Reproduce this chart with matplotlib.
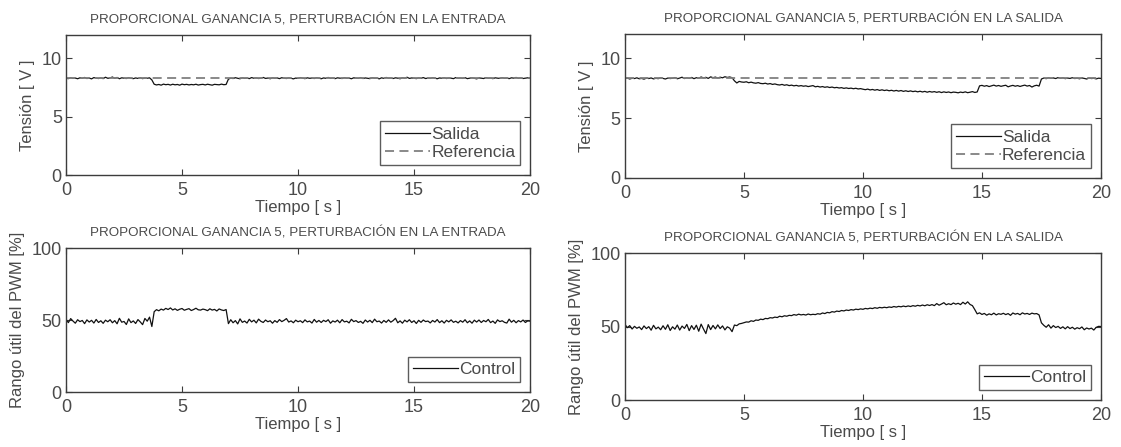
import numpy as np
import matplotlib
matplotlib.use("Agg")
import matplotlib.pyplot as plt

# Sampling instants (0.1 s step, 0 to 20 s)
t = np.linspace(0.0, 20.0, 201)

# Output voltage [V], disturbance at the input
salida_entrada = [
    8.30, 8.26, 8.34, 8.28, 8.31, 8.25, 8.33, 8.29, 8.36, 8.27,
    8.31, 8.24, 8.35, 8.30, 8.27, 8.33, 8.26, 8.38, 8.29, 8.32,
    8.40, 8.28, 8.36, 8.25, 8.33, 8.30, 8.27, 8.35, 8.29, 8.26,
    8.32, 8.28, 8.34, 8.26, 8.31, 8.29, 8.33, 8.15, 7.78, 7.72,
    7.76, 7.70, 7.79, 7.74, 7.77, 7.71, 7.78, 7.73, 7.76, 7.70,
    7.79, 7.74, 7.77, 7.72, 7.76, 7.73, 7.78, 7.71, 7.75, 7.77,
    7.72, 7.78, 7.74, 7.70, 7.77, 7.75, 7.73, 7.79, 7.74, 7.76,
    8.22, 8.30, 8.27, 8.34, 8.29, 8.25, 8.33, 8.28, 8.31, 8.26,
    8.35, 8.29, 8.32, 8.27, 8.30, 8.36, 8.28, 8.31, 8.25, 8.33,
    8.29, 8.32, 8.26, 8.34, 8.30, 8.27, 8.33, 8.29, 8.24, 8.31,
    8.28, 8.35, 8.30, 8.26, 8.33, 8.29, 8.31, 8.27, 8.34, 8.30,
    8.25, 8.32, 8.29, 8.36, 8.28, 8.31, 8.26, 8.33, 8.30, 8.27,
    8.34, 8.29, 8.31, 8.25, 8.33, 8.30, 8.28, 8.35, 8.27, 8.32,
    8.29, 8.26, 8.34, 8.30, 8.31, 8.24, 8.33, 8.28, 8.36, 8.29,
    8.31, 8.27, 8.33, 8.30, 8.25, 8.34, 8.29, 8.38, 8.28, 8.32,
    8.30, 8.26, 8.33, 8.29, 8.35, 8.27, 8.31, 8.28, 8.34, 8.30,
    8.25, 8.32, 8.29, 8.33, 8.27, 8.31, 8.30, 8.26, 8.35, 8.29,
    8.31, 8.28, 8.34, 8.26, 8.30, 8.33, 8.29, 8.24, 8.32, 8.30,
    8.27, 8.35, 8.29, 8.31, 8.26, 8.33, 8.30, 8.28, 8.34, 8.29,
    8.31, 8.26, 8.33, 8.30, 8.36, 8.28, 8.32, 8.27, 8.30, 8.33,
    8.29,
]

# Output voltage [V], disturbance at the output
salida_salida = [
    8.28, 8.33, 8.25, 8.31, 8.29, 8.35, 8.27, 8.30, 8.24, 8.32,
    8.29, 8.34, 8.26, 8.31, 8.28, 8.36, 8.30, 8.25, 8.33, 8.29,
    8.31, 8.37, 8.27, 8.33, 8.40, 8.29, 8.35, 8.30, 8.38, 8.28,
    8.36, 8.31, 8.42, 8.34, 8.39, 8.30, 8.43, 8.36, 8.41, 8.33,
    8.40, 8.35, 8.44, 8.38, 8.42, 8.36, 8.10, 7.92, 8.05, 8.00,
    7.98, 8.02, 7.94, 7.99, 7.93, 7.90, 7.95, 7.88, 7.86, 7.90,
    7.83, 7.87, 7.80, 7.84, 7.78, 7.75, 7.80, 7.73, 7.77, 7.70,
    7.74, 7.68, 7.72, 7.66, 7.70, 7.65, 7.68, 7.62, 7.66, 7.70,
    7.60, 7.64, 7.58, 7.62, 7.56, 7.60, 7.54, 7.58, 7.52, 7.55,
    7.50, 7.53, 7.47, 7.51, 7.46, 7.49, 7.44, 7.48, 7.42, 7.45,
    7.40, 7.36, 7.41, 7.34, 7.38, 7.32, 7.37, 7.30, 7.35, 7.29,
    7.33, 7.27, 7.31, 7.25, 7.30, 7.24, 7.29, 7.22, 7.27, 7.21,
    7.26, 7.20, 7.24, 7.18, 7.23, 7.17, 7.22, 7.15, 7.21, 7.16,
    7.20, 7.14, 7.19, 7.12, 7.18, 7.13, 7.17, 7.11, 7.16, 7.14,
    7.10, 7.16, 7.12, 7.18, 7.11, 7.15, 7.20, 7.13, 7.17, 7.68,
    7.72, 7.65, 7.70, 7.62, 7.68, 7.74, 7.66, 7.71, 7.64, 7.69,
    7.73, 7.60, 7.67, 7.72, 7.65, 7.70, 7.63, 7.69, 7.74, 7.66,
    7.71, 7.58, 7.68, 7.73, 7.66, 8.25, 8.33, 8.28, 8.36, 8.30,
    8.34, 8.29, 8.37, 8.31, 8.35, 8.28, 8.33, 8.30, 8.36, 8.29,
    8.32, 8.27, 8.34, 8.30, 8.25, 8.33, 8.29, 8.31, 8.26, 8.32,
    8.30,
]

# Voltage setpoint [V]
t_ref = [0.0, 20.0]
referencia = [8.3, 8.3]

# PWM duty cycle [%], disturbance at the input
control_entrada = [
    50.5, 48.2, 51.0, 49.3, 47.8, 50.2, 48.9, 49.7, 47.5, 50.1,
    48.6, 49.8, 47.9, 50.4, 48.3, 49.5, 47.7, 49.9, 48.8, 50.2,
    48.1, 49.6, 47.4, 51.2, 48.5, 49.0, 46.9, 50.8, 48.2, 49.4,
    47.6, 50.3, 48.7, 46.8, 51.1, 49.2, 52.0, 45.5, 55.8, 57.2,
    56.4, 57.6, 56.9, 58.1, 57.3, 58.4, 57.0, 57.8, 56.7, 57.5,
    58.0, 56.8, 57.4, 57.9, 56.6, 57.3, 58.2, 57.1, 56.9, 57.6,
    57.2, 56.5, 57.8, 56.9, 57.4, 56.3, 57.7, 57.0, 56.6, 57.3,
    47.5, 50.2, 48.1, 49.6, 47.3, 50.8, 48.4, 49.3, 47.9, 50.5,
    48.7, 49.9, 48.0, 50.6, 49.1, 48.3, 50.0, 48.8, 49.5, 47.8,
    49.6, 48.4, 50.3, 48.9, 49.8, 51.0, 48.6, 49.4, 48.1, 49.9,
    48.8, 49.5, 48.2, 50.1, 48.7, 49.3, 47.9, 50.4, 48.5, 49.7,
    48.3, 49.8, 48.9, 50.2, 47.8, 49.4, 48.6, 49.9, 48.1, 50.3,
    48.7, 49.2, 48.0, 50.5, 48.9, 49.6, 48.3, 49.1, 47.7, 50.0,
    48.6, 49.8, 48.2, 50.6, 48.8, 49.3, 47.9, 49.7, 48.4, 50.1,
    48.5, 49.6, 51.2, 48.1, 49.4, 47.8, 49.9, 48.7, 50.2, 48.3,
    49.5, 47.6, 49.8, 48.4, 50.0, 48.9, 49.3, 48.0, 49.7, 48.6,
    50.3, 48.2, 49.5, 47.9, 49.8, 48.7, 50.1, 48.4, 49.2, 48.0,
    49.6, 48.5, 50.2, 48.1, 49.4, 47.8, 49.9, 48.6, 50.0, 48.3,
    49.7, 48.8, 50.4, 48.2, 49.3, 47.7, 50.1, 48.9, 49.5, 48.4,
    47.9, 50.6, 48.5, 49.8, 48.1, 49.6, 48.7, 50.0, 48.3, 49.4,
    49.2,
]

# PWM duty cycle [%], disturbance at the output
control_salida = [
    51.5, 49.2, 50.6, 48.3, 50.1, 48.8, 49.7, 47.9, 50.4, 48.6,
    49.9, 47.5, 50.8, 48.4, 49.6, 47.8, 50.5, 48.1, 51.2, 47.3,
    49.8, 48.2, 51.0, 47.6, 50.3, 48.7, 51.4, 47.2, 50.6, 48.0,
    50.9, 46.8, 51.6, 48.3, 45.2, 51.3, 47.9, 50.7, 48.4, 51.1,
    48.6, 50.4, 47.7, 49.8, 48.9, 46.5, 51.0, 50.6, 51.8, 52.1,
    52.6, 53.1, 53.0, 53.9, 53.5, 54.4, 54.2, 55.0, 54.7, 55.5,
    55.3, 56.0, 55.8, 56.4, 56.1, 57.0, 56.6, 57.3, 57.0, 57.6,
    57.4, 58.1, 57.7, 58.4, 57.9, 58.2, 57.8, 58.5, 58.0, 58.3,
    58.1, 58.7, 58.4, 59.2, 58.8, 59.6, 59.3, 60.1, 59.8, 60.5,
    60.2, 60.9, 60.6, 61.2, 60.9, 61.5, 61.2, 61.8, 61.5, 62.0,
    61.7, 62.3, 62.0, 62.5, 62.2, 62.8, 62.4, 63.0, 62.7, 63.1,
    62.8, 63.3, 63.0, 63.6, 63.2, 63.7, 63.4, 63.9, 63.5, 64.0,
    63.6, 64.2, 63.8, 64.4, 64.0, 64.6, 64.1, 64.8, 64.3, 64.9,
    64.2, 65.6, 64.5, 65.3, 66.2, 64.8, 65.5, 64.9, 66.0, 65.2,
    65.8, 64.9, 66.5, 65.3, 66.8, 65.0, 64.2, 61.5, 58.6, 59.3,
    58.2, 58.9, 57.7, 58.6, 58.0, 59.1, 57.9, 58.7, 58.3, 59.0,
    58.1, 58.8, 57.6, 59.2, 58.4, 58.9, 58.0, 59.3, 58.5, 58.9,
    58.2, 59.1, 58.6, 58.8, 57.9, 52.5, 50.8, 49.5, 51.2, 48.9,
    50.6, 49.3, 50.1, 48.7, 49.8, 48.4, 49.9, 48.6, 49.5, 48.2,
    49.2, 48.5, 49.7, 47.8, 49.0, 48.3, 48.9, 47.6, 49.4, 50.1,
    50.0,
]

titulo_entrada = "PROPORCIONAL GANANCIA 5, PERTURBACIÓN EN LA ENTRADA"
titulo_salida = "PROPORCIONAL GANANCIA 5, PERTURBACIÓN EN LA SALIDA"
xticks = [0, 5, 10, 15, 20]
yticks_tension = [0, 5, 10]
yticks_pwm = [0, 50, 100]

plt.rcParams["font.family"] = ["Liberation Sans", "DejaVu Sans"]

TEXT = "#4a4a4a"
EDGE = "#3c3c3c"
REF = "#808080"

fig = plt.figure(figsize=(11.21, 4.47), dpi=100)
fig.patch.set_facecolor("white")

ax_tl = fig.add_axes([0.0589, 0.6085, 0.4139, 0.3132])
ax_tr = fig.add_axes([0.5575, 0.6018, 0.4246, 0.3221])
ax_bl = fig.add_axes([0.0589, 0.1230, 0.4139, 0.3221])
ax_br = fig.add_axes([0.5575, 0.1051, 0.4246, 0.3289])


def style(ax, title, ylabel, yticks, ylim):
    ax.set_xlim(0, 20)
    ax.set_ylim(*ylim)
    ax.set_xticks(xticks)
    ax.set_yticks(yticks)
    ax.set_title(title, fontsize=9.6, color=TEXT, pad=8)
    ax.set_xlabel("Tiempo [ s ]", fontsize=12, color=TEXT, labelpad=1)
    ax.set_ylabel(ylabel, fontsize=12, color=TEXT, labelpad=5)
    ax.tick_params(direction="in", top=True, right=True, length=4,
                   width=0.8, color=EDGE, labelcolor=TEXT, labelsize=13)
    ax.tick_params(axis="x", pad=5)
    ax.tick_params(axis="y", pad=3)
    for s in ax.spines.values():
        s.set_color(EDGE)
        s.set_linewidth(1.0)


def legend(ax):
    leg = ax.legend(loc="lower right", fontsize=12.5, frameon=True,
                    fancybox=False, handlelength=2.6, handletextpad=0.05,
                    borderpad=0.3, labelspacing=0.2, borderaxespad=0.55)
    fr = leg.get_frame()
    fr.set_edgecolor("#333333")
    fr.set_linewidth(1.0)
    for txt in leg.get_texts():
        txt.set_color(TEXT)


# Voltage panels
ax_tl.plot(t, salida_entrada, color="#111111", lw=0.9, label="Salida")
ax_tl.plot(t_ref, referencia, color=REF, lw=1.3, ls=(0, (5, 3)),
           label="Referencia")
style(ax_tl, titulo_entrada, "Tensión [ V ]", yticks_tension, (0, 12))
legend(ax_tl)

ax_tr.plot(t, salida_salida, color="#111111", lw=0.9, label="Salida")
ax_tr.plot(t_ref, referencia, color=REF, lw=1.3, ls=(0, (5, 3)),
           label="Referencia")
style(ax_tr, titulo_salida, "Tensión [ V ]", yticks_tension, (0, 12))
legend(ax_tr)

# Duty-cycle panels
ax_bl.plot(t, control_entrada, color="#111111", lw=0.9, label="Control")
style(ax_bl, titulo_entrada, "Rango útil del PWM [%]", yticks_pwm, (0, 100))
legend(ax_bl)

ax_br.plot(t, control_salida, color="#111111", lw=0.9, label="Control")
style(ax_br, titulo_salida, "Rango útil del PWM [%]", yticks_pwm, (0, 100))
legend(ax_br)

fig.savefig("out.png", dpi=100, facecolor="white")
